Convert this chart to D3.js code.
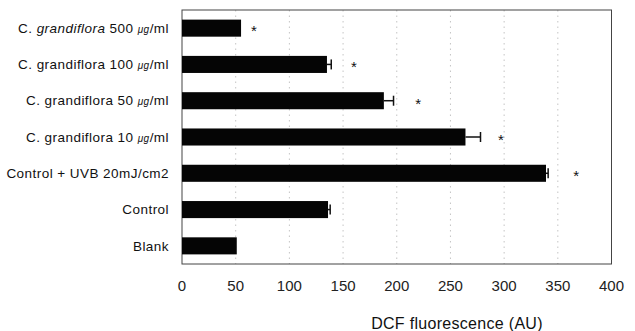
<!DOCTYPE html>
<html>
<head>
<meta charset="utf-8">
<script src="https://cdn.jsdelivr.net/npm/d3@7/dist/d3.min.js"></script>
<style>
  body { margin: 0; background: #fff; }
  svg { display: block; font-family: "Liberation Sans", Arial, sans-serif; }
</style>
</head>
<body>
<svg id="chart" width="635" height="331"></svg>
<script>
// groups, top to bottom
const groups = ['g500', 'g100', 'g50', 'g10', 'uvb', 'control', 'blank'];
const prefixes = ['C. ', 'C. grandiflora ', 'C. grandiflora ', 'C. grandiflora ', 'Control + UVB 20mJ/cm2', 'Control', 'Blank'];
const italicParts = ['grandiflora', '', '', '', '', '', ''];
const doses = [' 500 ', '100 ', '50 ', '10 ', '', '', ''];
const hasUnit = [true, true, true, true, false, false, false];

// DCF fluorescence (AU)
const values = [55, 135, 188, 264, 339, 136, 51];
const errors = [0, 4, 9, 14, 2, 2, 0];
// asterisks (significance) and where they sit on the AU axis
const starred = [true, true, true, true, true, false, false];
const starAt = [67, 160, 220, 297, 367, 0, 0];

const xTicks = [0, 50, 100, 150, 200, 250, 300, 350, 400];

const svg = d3.select('#chart');
const frame = { left: 182, right: 611.5, top: 10, bottom: 264 };

const x = d3.scaleLinear().domain([0, 400]).range([frame.left, frame.right]);
const y = d3.scaleBand().domain(groups).range([frame.top, frame.bottom])
  .paddingInner(0.53).paddingOuter(0.265);

// dotted grid
svg.append('g')
  .selectAll('line')
  .data(xTicks.slice(1, -1))
  .join('line')
    .attr('x1', d => x(d)).attr('x2', d => x(d))
    .attr('y1', frame.top).attr('y2', frame.bottom)
    .attr('stroke', '#b5b5b5')
    .attr('stroke-width', 0.8)
    .attr('stroke-dasharray', '1.5,4');

// frame
svg.append('rect')
  .attr('x', frame.left).attr('y', frame.top)
  .attr('width', frame.right - frame.left)
  .attr('height', frame.bottom - frame.top)
  .attr('fill', 'none')
  .attr('stroke', '#444')
  .attr('stroke-width', 1);

// bars
svg.append('g')
  .selectAll('rect')
  .data(groups)
  .join('rect')
    .attr('x', x(0))
    .attr('y', g => y(g))
    .attr('width', (g, i) => x(values[i]) - x(0))
    .attr('height', y.bandwidth())
    .attr('fill', '#050505');

// error bars
const eb = svg.append('g').attr('stroke', '#111').attr('stroke-width', 1.5);
groups.forEach((g, i) => {
  if (!errors[i]) return;
  const cy = y(g) + y.bandwidth() / 2;
  const x1 = x(values[i] + errors[i]);
  eb.append('line').attr('x1', x(values[i])).attr('x2', x1).attr('y1', cy).attr('y2', cy);
  eb.append('line').attr('x1', x1).attr('x2', x1).attr('y1', cy - 5).attr('y2', cy + 5);
});

// asterisks
svg.append('g')
  .selectAll('text')
  .data(groups.filter((g, i) => starred[i]))
  .join('text')
    .attr('x', g => x(starAt[groups.indexOf(g)]))
    .attr('y', g => y(g) + y.bandwidth() / 2 + 8)
    .attr('text-anchor', 'middle')
    .attr('font-size', 15)
    .attr('fill', '#111')
    .text('*');

// category labels
const labels = svg.append('g')
  .selectAll('text')
  .data(groups)
  .join('text')
    .attr('x', frame.left - 13)
    .attr('y', g => y(g) + y.bandwidth() / 2)
    .attr('dy', '0.35em')
    .attr('text-anchor', 'end')
    .attr('font-size', 13.5)
    .attr('letter-spacing', 0.45)
    .attr('fill', '#111');

labels.each(function (g, i) {
  const t = d3.select(this);
  t.append('tspan').text(prefixes[i]);
  if (italicParts[i]) t.append('tspan').attr('font-style', 'italic').text(italicParts[i]);
  if (doses[i]) t.append('tspan').text(doses[i]);
  if (hasUnit[i]) {
    t.append('tspan').attr('font-style', 'italic').attr('font-size', 10).text('μg');
    t.append('tspan').text('/ml');
  }
});

// x tick labels
svg.append('g')
  .selectAll('text')
  .data(xTicks)
  .join('text')
    .attr('x', d => x(d))
    .attr('y', 291)
    .attr('text-anchor', 'middle')
    .attr('font-size', 15)
    .attr('fill', '#222')
    .text(d => d);

// axis title
svg.append('text')
  .attr('x', 457)
  .attr('y', 329)
  .attr('text-anchor', 'middle')
  .attr('font-size', 16)
  .attr('letter-spacing', 0.3)
  .attr('fill', '#111')
  .text('DCF fluorescence (AU)');
</script>
</body>
</html>
